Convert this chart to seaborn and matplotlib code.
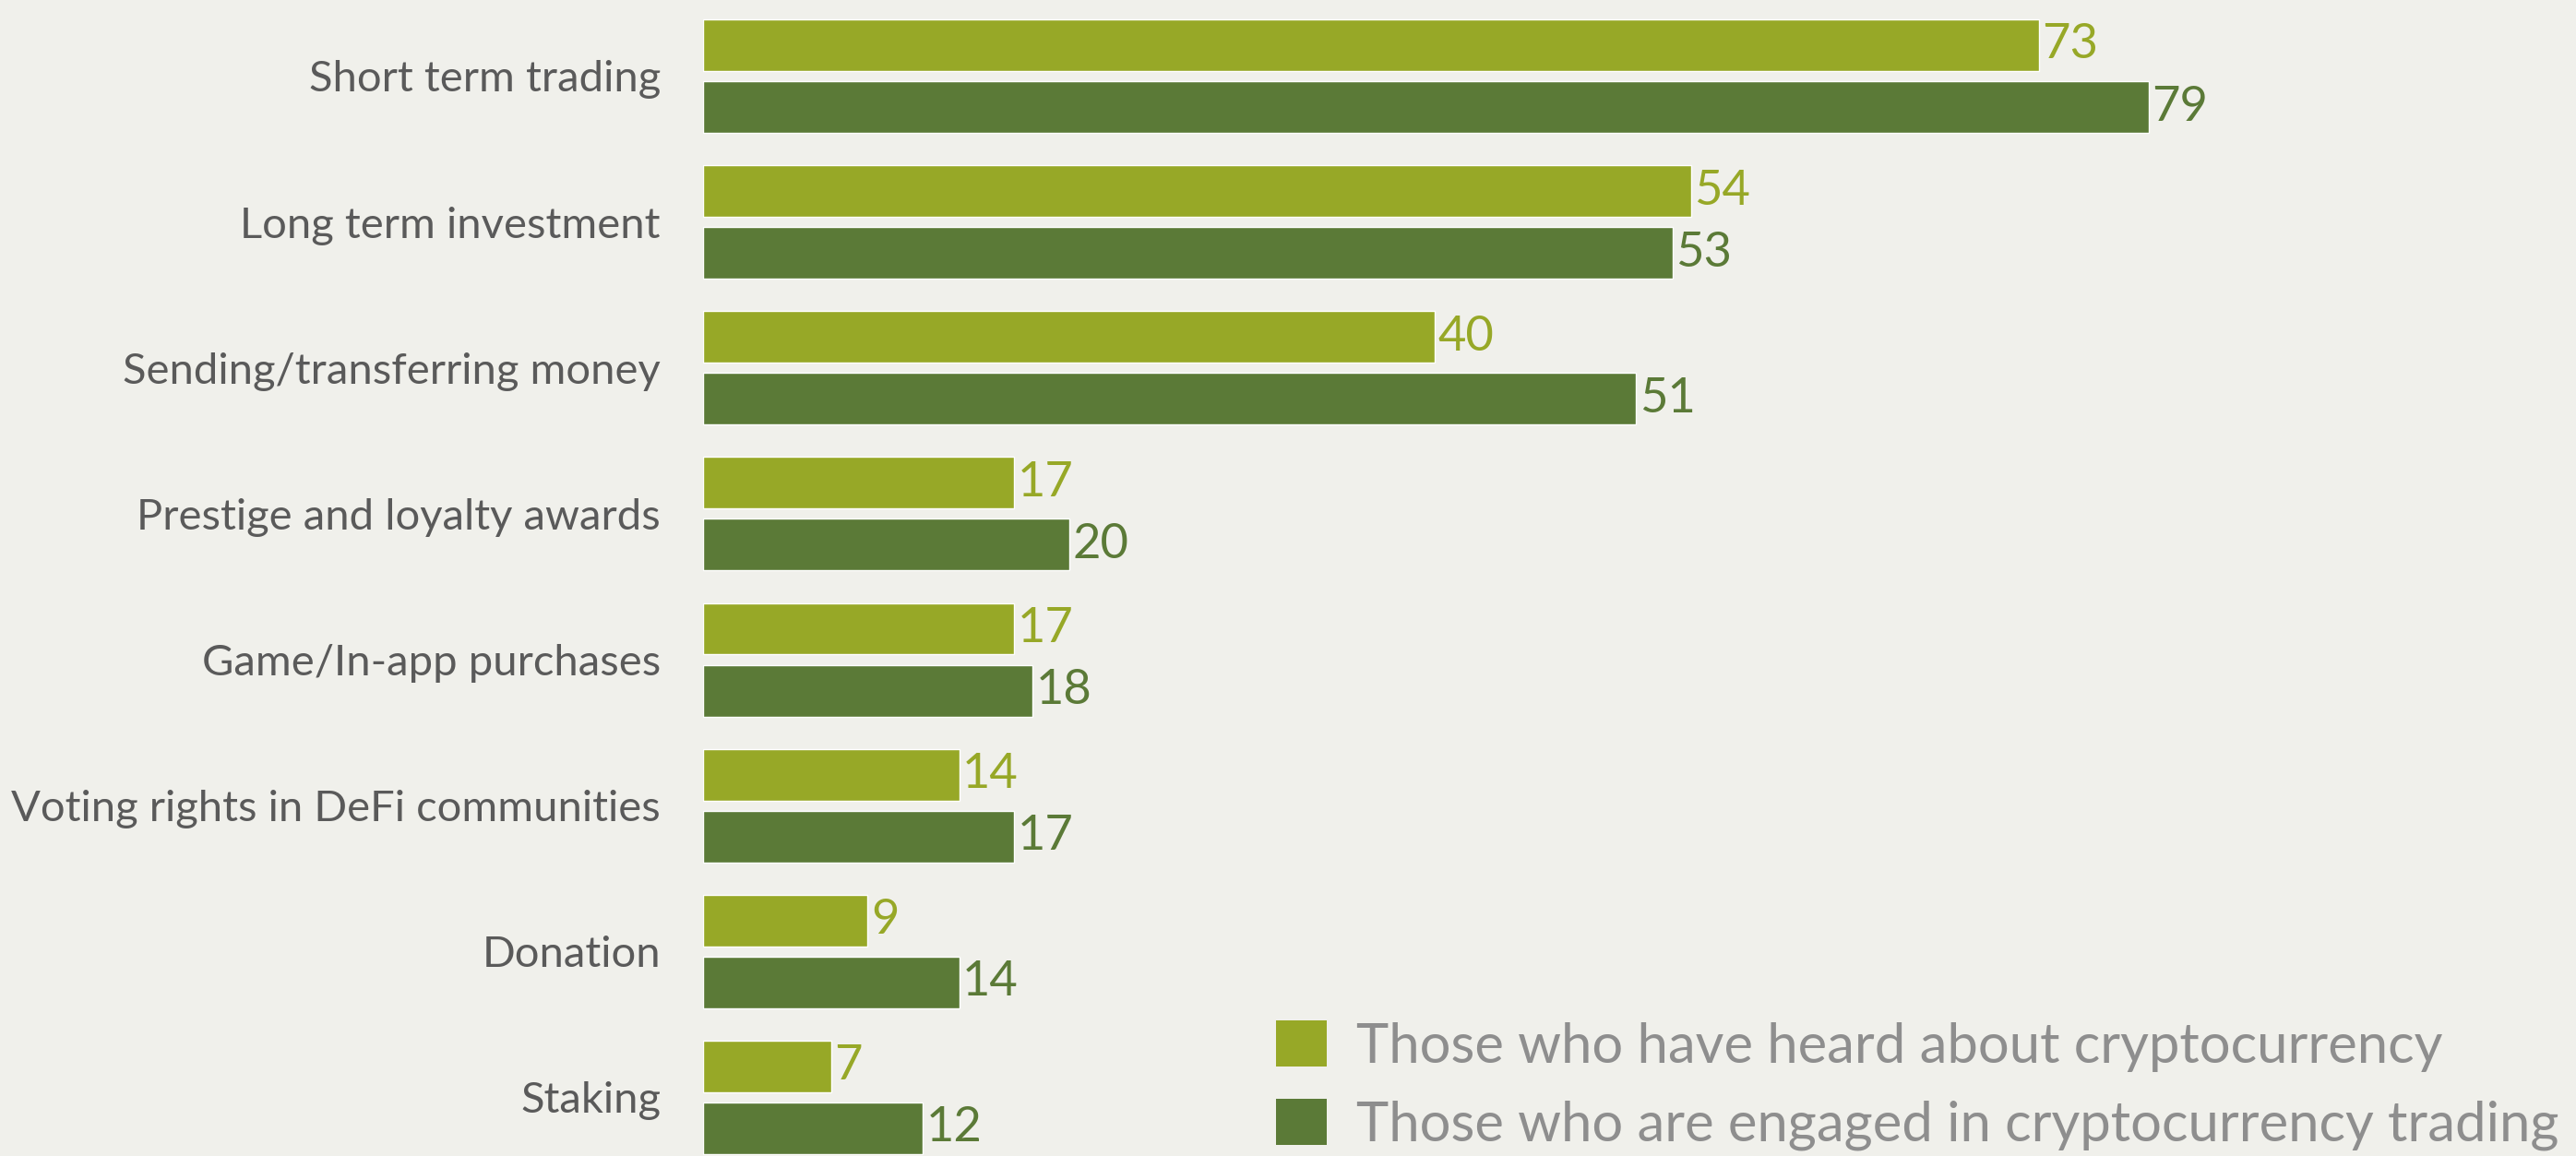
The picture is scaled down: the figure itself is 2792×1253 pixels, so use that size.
import matplotlib
matplotlib.use("Agg")
import matplotlib.pyplot as plt
from matplotlib.patches import Patch
import pandas as pd
import seaborn as sns

# Uses of cryptocurrency, share of respondents (%)
categories = [
    "Short term trading",
    "Long term investment",
    "Sending/transferring money",
    "Prestige and loyalty awards",
    "Game/In-app purchases",
    "Voting rights in DeFi communities",
    "Donation",
    "Staking",
]
heard = [73, 54, 40, 17, 17, 14, 9, 7]
engaged = [79, 53, 51, 20, 18, 17, 14, 12]
series_names = [
    "Those who have heard about cryptocurrency",
    "Those who are engaged in cryptocurrency trading",
]

BG = "#F0F0EB"
LIGHT = "#97A827"
DARK = "#5B7A37"
LABEL_GREY = "#5A5A5A"
LEGEND_GREY = "#8E8E8E"

sns.set_theme(style="white")
plt.rcParams["font.family"] = ["Lato", "DejaVu Sans"]

W, H, DPI = 2792, 1253, 100
fig = plt.figure(figsize=(W / DPI, H / DPI), dpi=DPI, facecolor=BG)
left_px = 762
ax = fig.add_axes([left_px / W, 0, 1 - left_px / W, 1])
ax.set_facecolor(BG)

df = pd.DataFrame({
    "category": categories * 2,
    "share": heard + engaged,
    "group": [series_names[0]] * len(categories) + [series_names[1]] * len(categories),
})

sns.barplot(
    data=df, x="share", y="category", hue="group",
    order=categories, hue_order=series_names,
    palette=[LIGHT, DARK], orient="h", width=0.848, gap=0.165,
    saturation=1, errorbar=None, legend=False, ax=ax,
)

px_per_unit = 19.83
ax.set_xlim(0, (W - left_px) / px_per_unit)
ax.set_ylim(7.402, -0.5217)
ax.set_xlabel("")
ax.set_ylabel("")
ax.set_xticks([])
for s in ax.spines.values():
    s.set_visible(False)

renderer = fig.canvas.get_renderer()


def fit_size(text, target_px, base=20):
    t = fig.text(0, 0, text, fontsize=base)
    w = t.get_window_extent(renderer).width
    t.remove()
    return base * target_px / w


# category labels
label_fs = fit_size("Voting rights in DeFi communities", 704)
ax.tick_params(axis="y", length=0, pad=46 * 72 / DPI, labelsize=label_fs, labelcolor=LABEL_GREY)

# value labels at bar ends
value_fs = fit_size("79", 61)
for container, color in zip(ax.containers, [LIGHT, DARK]):
    ax.bar_label(container, fmt="%d", padding=2.5, fontsize=value_fs, color=color)

# legend
legend_fs = fit_size(series_names[0], 1180)
fs_px = legend_fs * DPI / 72
handles = [Patch(facecolor=LIGHT, edgecolor="none"), Patch(facecolor=DARK, edgecolor="none")]
leg = ax.legend(
    handles, series_names, loc="upper left",
    bbox_to_anchor=(1383 / W, 1 - 1106 / H), bbox_transform=fig.transFigure,
    frameon=False, fontsize=legend_fs, labelcolor=LEGEND_GREY,
    handlelength=55 / fs_px, handleheight=55 / fs_px,
    handletextpad=32 / fs_px, labelspacing=0.3 + 11 / fs_px,
    borderpad=0, borderaxespad=0,
)

fig.savefig("out.png", dpi=DPI, facecolor=BG)
